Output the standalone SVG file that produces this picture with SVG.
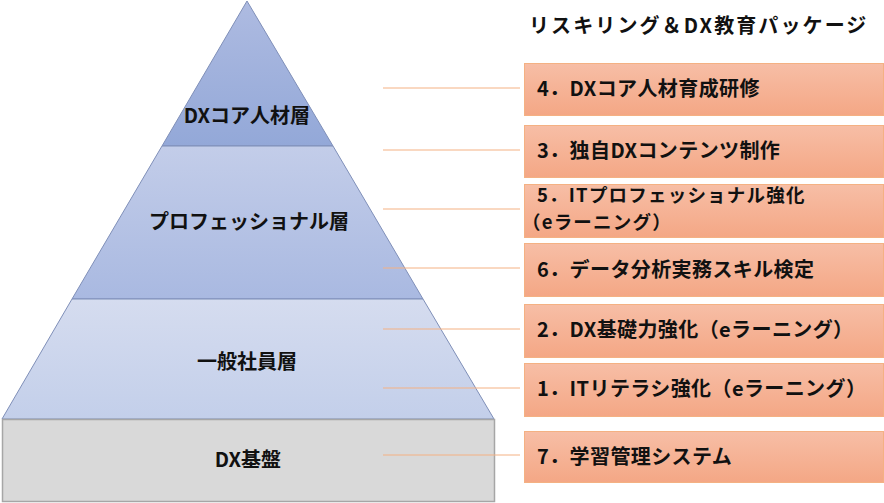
<svg xmlns="http://www.w3.org/2000/svg" width="884" height="503" viewBox="0 0 884 503">
<defs>
<linearGradient id="g1" x1="0" y1="0" x2="0" y2="1"><stop offset="0" stop-color="#aebbe1"/><stop offset="1" stop-color="#93a8d8"/></linearGradient>
<linearGradient id="g2" x1="0" y1="0" x2="0" y2="1"><stop offset="0" stop-color="#c3cde9"/><stop offset="1" stop-color="#a9b9e1"/></linearGradient>
<linearGradient id="g3" x1="0" y1="0" x2="0" y2="1"><stop offset="0" stop-color="#d5dcef"/><stop offset="1" stop-color="#c3cfea"/></linearGradient>
<linearGradient id="gb" x1="0" y1="0" x2="0" y2="1"><stop offset="0" stop-color="#f7bea6"/><stop offset="1" stop-color="#f4a785"/></linearGradient>
<style>
.t{font-family:"Noto Sans CJK JP","Noto Sans",sans-serif;font-weight:bold;font-size:20px;fill:#111;}
.c{text-anchor:middle;}
.b{letter-spacing:0.4px;}
.s{font-size:18.5px;letter-spacing:1.2px;}
.lay{stroke:#7f8fb8;stroke-width:1;}
.box{fill:url(#gb);stroke:#f4b183;stroke-width:1;}
.ln{stroke:#f4b183;stroke-width:1;fill:none;}
</style>
</defs>
<g id="layer-core">
<polygon class="lay" points="247,1 333,146 162,146" fill="url(#g1)"/>
<text class="t c" x="247" y="123">DXコア人材層</text>
</g>
<g id="layer-pro">
<polygon class="lay" points="162,146 333,146 423,299 72,299" fill="url(#g2)"/>
<text class="t c" x="249" y="229">プロフェッショナル層</text>
</g>
<g id="layer-general">
<polygon class="lay" points="72,299 423,299 494,419 2,419" fill="url(#g3)" stroke="#9aa8c8"/>
<text class="t c" x="247" y="369">一般社員層</text>
</g>
<g id="layer-base">
<rect x="2.5" y="419.5" width="492" height="82" fill="#d9d9d9" stroke="#a6a6a6" stroke-width="1.5"/>
<text class="t c" x="248" y="467">DX基盤</text>
</g>
<g id="title">
<text class="t" x="529" y="33" letter-spacing="2.1">リスキリング＆DX教育パッケージ</text>
</g>
<g id="connectors">
<line class="ln" x1="383" y1="88" x2="520" y2="88"/>
<line class="ln" x1="383" y1="150" x2="520" y2="150"/>
<line class="ln" x1="383" y1="209" x2="520" y2="209"/>
<line class="ln" x1="383" y1="268" x2="520" y2="268"/>
<line class="ln" x1="383" y1="329" x2="520" y2="329"/>
<line class="ln" x1="383" y1="388" x2="520" y2="388"/>
<line class="ln" x1="383" y1="455" x2="520" y2="455"/>
</g>
<g id="pkg4">
<rect class="box" x="524.5" y="63.5" width="359" height="52"/>
<text class="t b" x="537" y="96">4．DXコア人材育成研修</text>
</g>
<g id="pkg3">
<rect class="box" x="524.5" y="125.5" width="359" height="52"/>
<text class="t b" x="537" y="158">3．独自DXコンテンツ制作</text>
</g>
<g id="pkg5">
<rect class="box" x="524.5" y="184.5" width="359" height="53"/>
<text class="t s" x="537" y="202">5．ITプロフェッショナル強化</text>
<text class="t s" x="522" y="229">（eラーニング）</text>
</g>
<g id="pkg6">
<rect class="box" x="524.5" y="243.5" width="359" height="53"/>
<text class="t b" x="537" y="277">6．データ分析実務スキル検定</text>
</g>
<g id="pkg2">
<rect class="box" x="524.5" y="304.5" width="359" height="53"/>
<text class="t b" x="537" y="337">2．DX基礎力強化（eラーニング）</text>
</g>
<g id="pkg1">
<rect class="box" x="524.5" y="363.5" width="359" height="53"/>
<text class="t b" x="537" y="396">1．ITリテラシ強化（eラーニング）</text>
</g>
<g id="pkg7">
<rect class="box" x="524.5" y="431.5" width="359" height="51"/>
<text class="t b" x="537" y="464">7．学習管理システム</text>
</g>
</svg>
